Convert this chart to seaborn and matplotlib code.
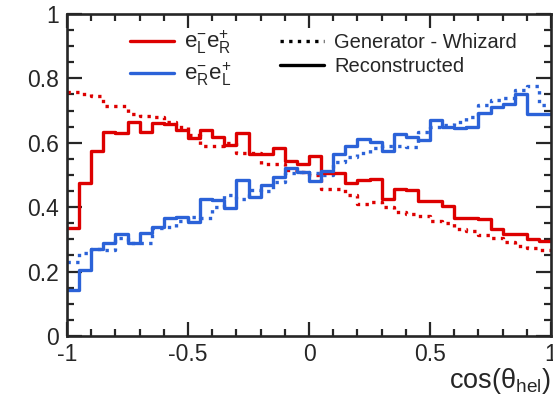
import numpy as np
import pandas as pd
import matplotlib
matplotlib.use("Agg")
import matplotlib.pyplot as plt
from matplotlib.lines import Line2D
from matplotlib.ticker import MultipleLocator
import seaborn as sns

# ---- data (40 bins, cos(theta_hel) from -1 to 1) ----
n_bins = 40
bin_edges = np.linspace(-1, 1, n_bins + 1)
bin_centers = 0.5 * (bin_edges[:-1] + bin_edges[1:])

red_reco = [0.334, 0.474, 0.574, 0.632, 0.629, 0.665, 0.634, 0.662, 0.659, 0.640,
            0.614, 0.640, 0.619, 0.593, 0.629, 0.564, 0.564, 0.585, 0.543, 0.533,
            0.559, 0.505, 0.505, 0.474, 0.484, 0.487, 0.427, 0.458, 0.452, 0.418,
            0.418, 0.403, 0.365, 0.365, 0.363, 0.332, 0.318, 0.318, 0.300, 0.295]
red_gen = [0.757, 0.753, 0.746, 0.715, 0.715, 0.688, 0.684, 0.680, 0.665, 0.650,
           0.625, 0.591, 0.590, 0.600, 0.567, 0.567, 0.535, 0.533, 0.515, 0.510,
           0.500, 0.456, 0.456, 0.437, 0.410, 0.417, 0.402, 0.386, 0.380, 0.374,
           0.357, 0.350, 0.332, 0.325, 0.315, 0.305, 0.293, 0.280, 0.273, 0.266]
blue_reco = [0.143, 0.205, 0.270, 0.288, 0.316, 0.288, 0.320, 0.340, 0.365, 0.370,
             0.355, 0.427, 0.422, 0.398, 0.484, 0.432, 0.469, 0.495, 0.523, 0.510,
             0.481, 0.512, 0.564, 0.590, 0.612, 0.603, 0.574, 0.626, 0.619, 0.609,
             0.671, 0.650, 0.647, 0.650, 0.691, 0.712, 0.719, 0.752, 0.690, 0.690]
blue_gen = [0.231, 0.257, 0.270, 0.267, 0.303, 0.288, 0.288, 0.334, 0.339, 0.358,
            0.370, 0.365, 0.401, 0.438, 0.427, 0.453, 0.450, 0.478, 0.505, 0.510,
            0.505, 0.500, 0.540, 0.556, 0.568, 0.583, 0.590, 0.590, 0.588, 0.633,
            0.650, 0.655, 0.665, 0.680, 0.718, 0.733, 0.739, 0.764, 0.776, 0.718]

x_ticks = [-1, -0.5, 0, 0.5, 1]
x_tick_labels = ["-1", "-0.5", "0", "0.5", "1"]
y_ticks = [0, 0.2, 0.4, 0.6, 0.8, 1]
y_tick_labels = ["0", "0.2", "0.4", "0.6", "0.8", "1"]

legend_labels = [r"$\mathregular{e^{-}_{L}e^{+}_{R}}$", r"$\mathregular{e^{-}_{R}e^{+}_{L}}$",
                 "Generator - Whizard", "Reconstructed"]
x_label = r"$\mathregular{cos(\theta_{hel})}$"

RED = "#dd0000"
BLUE = "#2b62d8"

# ---- styling ----
sns.set_style("ticks")
plt.rcParams["font.family"] = ["Liberation Sans", "DejaVu Sans"]
plt.rcParams["mathtext.fontset"] = "custom"
plt.rcParams["mathtext.rm"] = "Liberation Sans"
plt.rcParams["mathtext.it"] = "Liberation Sans:italic"

fig = plt.figure(figsize=(5.53, 4.0), dpi=100)
ax = fig.add_axes([0.1212, 0.16, 0.8752, 0.805])

DOT = (0, (1, 1.6))
series = [
    (red_gen, RED, DOT),
    (blue_gen, BLUE, DOT),
    (red_reco, RED, "-"),
    (blue_reco, BLUE, "-"),
]
for vals, col, ls in series:
    df = pd.DataFrame({"x": bin_centers, "w": vals})
    sns.histplot(data=df, x="x", weights="w", bins=n_bins, binrange=(-1, 1),
                 element="step", fill=False, color=col, linewidth=2.4,
                 linestyle=ls, ax=ax)

ax.set_xlim(-1, 1)
ax.set_ylim(0, 1)
ax.set_xticks(x_ticks)
ax.set_xticklabels(x_tick_labels)
ax.set_yticks(y_ticks)
ax.set_yticklabels(y_tick_labels)
ax.xaxis.set_minor_locator(MultipleLocator(0.1))
ax.yaxis.set_minor_locator(MultipleLocator(0.05))
ax.set_ylabel("")
ax.set_xlabel(x_label, fontsize=19.5, loc="right", labelpad=0)

for s in ax.spines.values():
    s.set_visible(True)
    s.set_linewidth(1.9)
ax.tick_params(which="both", direction="in", top=True, right=True, width=1.6,
               labelsize=16.5, pad=5)
ax.tick_params(which="major", length=10)
ax.tick_params(which="minor", length=5)
ax.tick_params(axis="y", which="major", length=11, pad=6)

handles = [
    Line2D([], [], color=RED, lw=2.4),
    Line2D([], [], color=BLUE, lw=2.4),
    Line2D([], [], color="black", lw=2.4, linestyle=DOT),
    Line2D([], [], color="black", lw=2.4),
]
leg = ax.legend(handles, legend_labels, ncol=2, loc="upper left",
                bbox_to_anchor=(0.10, 1.0), frameon=False, fontsize=14.5,
                handlelength=2.2, handletextpad=0.5, columnspacing=2.4,
                labelspacing=0.25, borderaxespad=0.3)
for t in leg.get_texts()[:2]:
    t.set_fontsize(16)

fig.savefig("out.png", dpi=100)
